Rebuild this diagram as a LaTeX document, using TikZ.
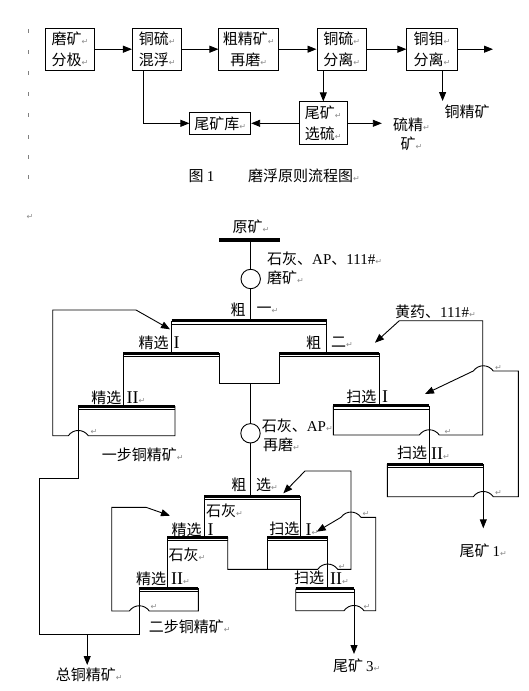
\documentclass[tikz,border=0pt]{standalone}
\usepackage{fontspec}
\setmainfont{Noto Sans CJK SC}
\newfontfamily\latf{Liberation Serif}
\newfontfamily\dejaf{DejaVu Sans}
\usetikzlibrary{arrows.meta}
\newcommand\retmark{{\dejaf\fontsize{8}{8}\selectfont\color{black!45}↵}}
\newcommand\romn[1]{{\latf\fontsize{18}{18}\selectfont #1}}
\newcommand\cellbar[3]{\draw[barthick] (#1,#3) -- (#2,#3); \draw[barthin] (#1,#3+3.4) -- (#2,#3+3.4);}
\begin{document}
\begin{tikzpicture}[x=1pt,y=-1pt,
  every node/.style={inner sep=0pt, font=\fontsize{15}{21.6}\selectfont},
  ln/.style={line width=0.9pt},
  arr/.style={line width=0.9pt,-{Triangle[length=9pt,width=7pt]}},
  pbox/.style={draw, line width=0.9pt, align=center},
  barthick/.style={line width=3pt},
  barthin/.style={line width=0.8pt},
  tick/.style={line width=0.7pt, black!50},
  rm/.style={font=\fontsize{8}{8}\selectfont}
]
\useasboundingbox (0,0) rectangle (529,691);

% ---------------- Figure 1 ----------------
\foreach \yy in {31,52,73,94,115,137,157,177} \draw[tick] (28.7,\yy-2) -- (28.7,\yy+2);

\node[pbox, minimum width=49pt, minimum height=42.3pt] (b1) at (70.1,49.2) {磨矿\retmark\\分极\retmark};
\node[pbox, minimum width=49.4pt, minimum height=42.3pt] (b2) at (157.1,49.2) {铜硫\retmark\\混浮\retmark};
\node[pbox, minimum width=59.8pt, minimum height=42.3pt] (b3) at (248.8,49.2) {粗精矿\retmark\\再磨\retmark};
\node[pbox, minimum width=49.7pt, minimum height=42.3pt] (b4) at (341.8,49.2) {铜硫\retmark\\分离\retmark};
\node[pbox, minimum width=50.3pt, minimum height=42.3pt] (b5) at (432,49.2) {铜钼\retmark\\分离\retmark};
\node[pbox, minimum width=60.8pt, minimum height=21.6pt] (tk) at (220.3,123.3) {尾矿库\retmark};
\node[pbox, minimum width=48.3pt, minimum height=42.9pt] (xs) at (323.2,123.3) {尾矿\retmark\\选硫\retmark};
\node[align=center, font=\fontsize{15}{18.6}\selectfont] (sc) at (411.5,134.3) {硫精\retmark\\矿\retmark};
\node (cuc) at (467,111.5) {铜精矿};
\node (cap1) at (201.5,175.7) {图 {\latf 1}};
\node[anchor=west] (cap2) at (248,175.7) {磨浮原则流程图\retmark};

\coordinate (out) at (493,49.2);
\coordinate (b2d) at (143,70.3);
\coordinate (b4d) at (323.3,70.3);
\coordinate (b5d) at (442.6,70.3);
\coordinate (cut) at (442.6,101);
\coordinate (sce) at (381.8,123.3);
\draw[arr] (b1) -- (b2);
\draw[arr] (b2) -- (b3);
\draw[arr] (b3) -- (b4);
\draw[arr] (b4) -- (b5);
\draw[arr] (b5) -- (out);
\draw[arr] (b2d) |- (tk.west);
\draw[arr] (b4d) -- (b4d |- xs.north);
\draw[arr] (b5d) -- (cut);
\draw[arr] (xs.west) -- (xs.west -| tk.east);
\draw[arr] (xs.east) -- (sce);

% ---------------- Figure 2 ----------------
\node[rm] (m0) at (30,217) {\retmark};
\node (ore) at (251,227) {原矿\retmark};
\draw[line width=4pt] (219,240) -- (280,240);
\coordinate (oreb) at (250.7,240);
\node[draw, circle, line width=0.9pt, minimum size=19.4pt] (c1) at (250.7,279) {};
\draw[ln] (oreb) -- (c1.north);
\coordinate (r1t) at (250.7,320.5);
\draw[ln] (c1.south) -- (r1t);
\node[anchor=west] (t1) at (267,259) {石灰、{\latf AP}、{\latf 111\#}\retmark};
\node[anchor=west] (t2) at (267,278) {磨矿\retmark};

% rougher I
\cellbar{171.7}{326.7}{320.5}
\node (r1a) at (238,310) {粗};
\node[anchor=west] (r1b) at (256.5,310) {一\retmark};
\draw[ln] (171.7,320.5) -- (171.7,352);
\draw[ln] (326.7,320.5) -- (326.7,352);

% cleaner I (upper) and rougher II
\cellbar{123.3}{219.3}{353}
\cellbar{279.3}{379.3}{353}
\node (c1a) at (153.6,343) {精选};
\node (c1b) at (176.7,343) {\romn{I}};
\node (r2a) at (313.5,342.7) {粗};
\node[anchor=west] (r2b) at (331,342.7) {二\retmark};
\draw[ln] (219.3,353) -- (219.3,383) -- (279.3,383) -- (279.3,353);
\node[draw, circle, line width=0.9pt, minimum size=19.4pt] (c2) at (250.5,433.3) {};
\coordinate (r1bot) at (250.5,383);
\coordinate (rst) at (250.5,496);
\draw[ln] (r1bot) -- (c2.north);
\draw[ln] (c2.south) -- (rst);
\node[anchor=west] (t3) at (261.7,426) {石灰、{\latf AP}\retmark};
\node[anchor=west] (t4) at (263,445) {再磨\retmark};

% reagent arrow to rougher II
\node[anchor=west] (hy) at (395,312) {黄药、{\latf 111\#}\retmark};
\coordinate (hya) at (399.3,320.7);
\coordinate (hyt) at (375,342.7);

% cleaner II (upper)
\draw[ln] (123.3,353) -- (123.3,406);
\cellbar{78.3}{175}{406}
\node (c2a) at (106.3,397.3) {精选};
\node[anchor=west] (c2b) at (126.5,397.3) {\romn{II}\retmark};
\coordinate (c1arr) at (170,329.3);
\draw[arr] (175,406) -- (175,435.7) -- (88.3,435.7) .. controls (83.3,428.7) and (73.3,428.7) .. (68.3,435.7) -- (52.7,435.7) -- (52.7,310) -- (136,310) -- (c1arr);
\node[rm] (m1) at (94,432) {\retmark};
\node[anchor=west] (yb) at (101.7,455) {一步铜精矿\retmark};
\draw[ln] (78.3,406) -- (78.3,478) -- (39.9,478) -- (39.9,634.5) -- (139.3,634.5) -- (139.3,588);
\coordinate (tcd) at (87.2,634.5);
\coordinate (tce) at (87.2,665);
\draw[arr] (tcd) -- (tce);
\node[anchor=west] (tc) at (55.7,674.4) {总铜精矿\retmark};

% scavenger I (upper)
\draw[ln] (379.3,353) -- (379.3,405.5);
\cellbar{333.3}{429.3}{405.8}
\node (s1a) at (361.3,396.7) {扫选};
\node (s1b) at (385,396.7) {\romn{I}};
\draw[arr] (333.3,405.8) -- (333.3,435) -- (419.3,435) .. controls (424.3,428) and (434.3,428) .. (439.3,435) -- (482.7,435) -- (482.7,320.7) -- (hya) -- (hyt);
\node[rm] (m2) at (448,431.5) {\retmark};

% scavenger II (upper)
\draw[ln] (429.3,405.8) -- (429.3,464);
\cellbar{387.3}{483.3}{464.2}
\node (s2a) at (412,453.3) {扫选};
\node[anchor=west] (s2b) at (431,453.3) {\romn{II}\retmark};
\coordinate (s1arr) at (425,394);
\draw[arr] (387.3,464.2) -- (387.3,496.7) -- (473.3,496.7) .. controls (478.3,489.7) and (488.3,489.7) .. (493.3,496.7) -- (518.3,496.7) -- (518.3,371) -- (493.3,371) .. controls (488.3,364) and (478.3,364) .. (473.3,371) -- (s1arr);
\node[rm] (m3) at (498.5,367.5) {\retmark};
\node[rm] (m4) at (498.5,493) {\retmark};
\coordinate (t1a) at (483.3,464.2);
\coordinate (t1b) at (483.3,528.3);
\draw[arr] (t1a) -- (t1b);
\node[anchor=west] (w1) at (459.5,551) {尾矿\hspace{3pt}{\latf 1}\retmark};

% rougher (lower)
\cellbar{204.3}{300}{496}
\node (rla) at (238.8,485) {粗};
\node[anchor=west] (rlb) at (256,485) {选\retmark};
\node[anchor=west] (sh1) at (206,511) {石灰\retmark};
\draw[ln] (204.3,496) -- (204.3,537);
\draw[ln] (300,496) -- (300,537);

% cleaner I & scavenger I (lower)
\cellbar{167.3}{227.7}{537}
\cellbar{267.3}{327.7}{537}
\node (l1a) at (186.7,529.3) {精选};
\node (l1b) at (210.7,529.3) {\romn{I}};
\node (l2a) at (284.3,529.3) {扫选};
\node[anchor=west] (l2b) at (305.5,529.3) {\romn{I}\retmark};
\node[anchor=west] (sh2) at (168.3,555) {石灰\retmark};
\draw[ln] (267.3,537) -- (267.3,569.3);
\coordinate (rlarr) at (283.3,493.3);
\draw[arr] (227.7,537) -- (227.7,569.3) -- (317.7,569.3) .. controls (322.7,562.3) and (332.7,562.3) .. (337.7,569.3) -- (351,569.3) -- (351,471) -- (305,471) -- (rlarr);
\node[rm] (m5) at (342,566.5) {\retmark};

% cleaner II (lower)
\draw[ln] (167.3,537) -- (167.3,588);
\cellbar{139.3}{198.3}{588}
\node (l3a) at (151,578.3) {精选};
\node[anchor=west] (l3b) at (171,578.3) {\romn{II}\retmark};
\coordinate (l1arr) at (170,515.7);
\draw[arr] (198.3,588) -- (198.3,611) -- (149.3,611) .. controls (144.3,604) and (134.3,604) .. (129.3,611) -- (111.7,611) -- (111.7,507.3) -- (146,507.3) -- (l1arr);
\node[rm] (m6) at (154,606.5) {\retmark};
\node[anchor=west] (eb) at (148.6,627) {二步铜精矿\retmark};

% scavenger II (lower)
\draw[ln] (327.7,537) -- (327.7,588.5);
\cellbar{295.7}{354}{588.5}
\node (l4a) at (309,578.3) {扫选};
\node[anchor=west] (l4b) at (330,578.3) {\romn{II}\retmark};
\coordinate (l2arr) at (316.7,531.7);
\draw[arr] (295.7,588.5) -- (295.7,610.7) -- (344,610.7) .. controls (349,603.7) and (359,603.7) .. (364,610.7) -- (375.7,610.7) -- (375.7,517.3) -- (361,517.3) .. controls (356,510.3) and (346,510.3) .. (341,517.3) -- (l2arr);
\node[rm] (m7) at (367,606.5) {\retmark};
\node[rm] (m8) at (366,513.5) {\retmark};
\coordinate (t3a) at (354,588.5);
\coordinate (t3b) at (354,654);
\draw[arr] (t3a) -- (t3b);
\node[anchor=west] (w3) at (332.8,666) {尾矿\hspace{3pt}{\latf 3}\retmark};
\end{tikzpicture}
\end{document}
